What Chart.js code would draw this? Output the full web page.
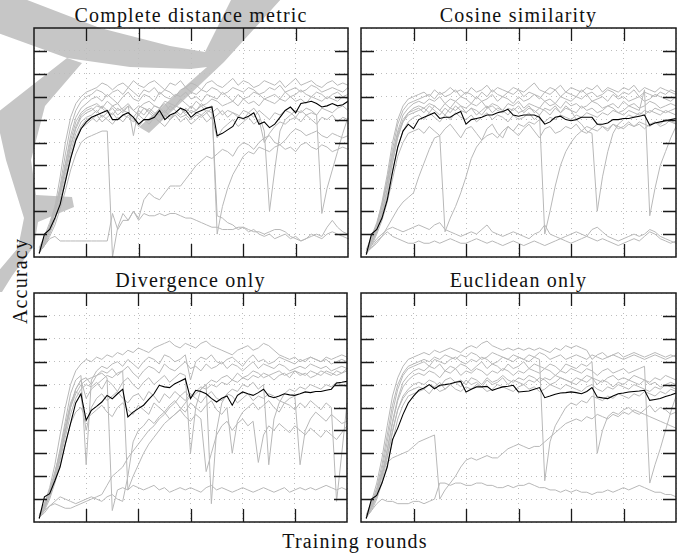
<!DOCTYPE html>
<html>
<head>
<meta charset="utf-8">
<script src="https://cdn.jsdelivr.net/npm/chart.js@4.4.1/dist/chart.umd.min.js"></script>
<style>
  body { margin: 0; background: #fff; }
  #page { position: relative; width: 691px; height: 556px; overflow: hidden; font-family: 'Liberation Serif', 'DejaVu Serif', 'Noto Serif', 'Times New Roman', serif; color: #111; }
  #mark { position: absolute; left: 0; top: 0; }
  canvas { position: absolute; }
  .title { position: absolute; font-size: 20px; line-height: 20px; letter-spacing: 1.2px; text-align: center; white-space: nowrap; }
  #ylab { position: absolute; left: 20px; top: 281px; font-size: 20px; line-height: 20px; letter-spacing: 1.2px; white-space: nowrap; transform: translate(-50%, -50%) rotate(-90deg); }
</style>
</head>
<body>
<div id="page">
  <!-- light grey watermark behind the plots -->
  <svg id="mark" width="691" height="556">
    <g fill="#c6c6c6" stroke="none">
      <polygon points="-2,-2 22,-2 100,28 170,46 205,52 232,-2 282,-2 224,62 149,133 139,127 207,67 190,69 130,67 67,58 -2,33"/>
      <polygon points="67,58 82,63 45,106 31,160 36,195 72,197 74,207 38,222 34,246 12,276 2,292 -4,292 -4,274 18,248 24,218 6,160 -2,124 -2,112"/>
    </g>
  </svg>
  <div id="ylab">Accuracy</div>
  <div class="title" style="left:34px;top:531px;width:642px;">Training rounds</div>
</div>
<script>
const rounds = [1,2,3,4,5,6,7,8,9,10,11,12,13,14,15,16,17,18,19,20,21,22,23,24,25,26,27,28,29,30,
  31,32,33,34,35,36,37,38,39,40,41,42,43,44,45,46,47,48,49,50,51,52,53,54,55,56,57,58,59,60];
const panelTitles = ['Complete distance metric', 'Cosine similarity', 'Divergence only', 'Euclidean only'];

// accuracy in percent, one value per training round
const completeMean = [1.5,10,12,17,23,33,43,51,56,59, 61,62,63,64,60,60,62,63,61,58,
  60,60,61,64,60,62,63,65,64,61, 63,64,65,65.5,53,54,55.5,57,61,60.5,
  61.5,63,58,59,56.5,58,61,64,65.5,63, 67,67.5,68,67,65.5,66,67,66,66.5,68];
const completeRuns = [
  [3,7,13,22,35,50,61,67,70,72, 73,74,76,75,73,75,76,74,77,75, 74,76,77,75,73,76,75,77,74,76,
   75,73,76,77,75,74,76,78,75,77, 76,74,75,77,76,75,77,74,76,78, 75,76,77,75,74,76,77,75,76,75],
  [2,6,12,20,31,45,57,64,68,70, 71,73,72,70,72,73,71,74,72,70, 73,72,74,71,73,72,70,73,74,72,
   71,73,72,74,73,71,72,74,73,72, 74,73,71,72,74,73,75,72,73,74, 72,73,75,74,72,73,74,73,72,74],
  [4,9,15,22,30,41,53,61,65,67, 69,70,68,71,69,67,70,72,69,68, 71,70,68,72,70,69,71,70,72,69,
   70,68,71,70,69,72,70,68,71,69, 70,72,71,69,70,71,69,72,70,71, 73,71,70,72,71,69,71,72,70,71],
  [2,6,12,19,28,40,51,59,63,65, 66,67,65,68,66,67,64,66,53,65, 67,68,66,65,68,67,66,69,67,65,
   68,66,67,69,68,66,67,68,66,69, 67,68,66,69,68,67,69,68,70,68, 69,67,70,69,68,70,69,68,70,69],
  [3,8,14,21,29,38,48,56,61,63, 64,66,65,63,66,64,65,67,64,66, 65,63,66,65,67,64,66,65,63,66,
   64,67,65,66,10,22,30,36,40,44, 46,45,48,47,46,48,49,47,48,46, 49,50,48,47,49,48,46,47,48,47],
  [2,7,13,20,27,36,46,54,59,61, 62,64,61,63,65,62,64,63,61,64, 62,65,63,62,64,61,63,65,62,64,
   63,62,64,63,65,62,64,63,61,64, 63,65,62,55,20,38,55,60,62,64, 63,65,64,62,65,64,63,65,66,64],
  [2,5,10,16,24,33,43,51,56,58, 60,62,59,61,63,60,62,61,59,62, 60,63,61,59,62,60,63,61,62,60,
   62,61,63,60,62,64,61,63,62,60, 63,61,64,62,60,63,62,64,63,61, 64,62,63,62,19,30,38,46,54,61],
  [2,5,9,14,21,29,38,45,50,52, 53,54,55,55,0,13,19,16,20,17, 25,28,26,25,28,31,31,31,34,37,
   40,42,44,43,45,47,46,44,48,50, 49,47,50,52,53,50,49,51,54,56, 55,53,54,55,53,52,54,53,52,53],
  [2,5,8,9,7,7,7,7,7,7, 7,7,7,7,19,12,16,16,20,16, 19,18,18,19,18,19,19,18,17,17,
   16,15,14,13,13,12,12,12,13,13, 12,11,11,10,11,12,12,11,9,8, 7,8,9,10,9,13,16,13,11,10],
  [3,8,13,20,28,38,49,57,62,64, 65,63,66,64,62,65,63,66,64,62, 65,64,62,65,63,66,64,62,65,63,
   64,66,63,65,18,17,15,14,12,13, 11,12,10,9,10,8,9,10,8,9, 7,8,10,9,8,10,11,10,9,8],
  [2,6,11,17,25,34,44,52,57,60, 61,59,62,60,58,61,59,62,60,57, 60,58,61,59,57,60,62,59,61,58,
   60,62,59,61,52,56,58,60,57,59, 61,58,60,50,54,57,59,58,60,61, 59,62,60,58,61,60,62,59,61,60]
];

const cosineMean = [1,10,12,17,25,37,48,55,58,56, 60,61,62,63,60.5,61,61,62.5,63.5,58,
  60,60.5,61,62,62,63,63.5,64.5,62,61.5, 62,62,62,61,58,59,61,61.5,60,59.5,
  60,61,61,61,58,58,58.5,60,60,60.5, 60.5,61,61.5,62,57.5,58.5,59,59.5,60,60.5];
const cosineRuns = [
  [3,8,14,24,36,50,60,66,69,70, 71,72,70,73,71,72,74,72,73,71, 74,72,73,75,72,74,73,72,74,73,
   72,74,76,73,72,74,73,75,72,74, 73,72,74,73,75,72,74,73,72,74, 73,75,72,74,73,72,74,73,72,71],
  [2,7,13,22,34,47,58,64,67,68, 69,70,71,69,72,70,71,73,70,72, 71,69,72,70,73,71,70,72,71,73,
   70,72,71,69,72,71,73,70,72,71, 70,73,71,72,70,71,73,72,70,72, 71,73,70,72,71,70,72,71,73,72],
  [3,9,15,23,33,45,55,62,65,67, 68,67,69,68,70,67,69,68,70,69, 67,70,68,69,71,68,70,69,67,70,
   68,69,71,70,68,69,67,70,69,68, 70,69,71,68,69,70,68,71,69,70, 68,69,70,68,69,71,70,69,68,70],
  [2,6,11,19,29,41,52,59,63,65, 66,65,67,66,64,67,65,68,66,65, 67,66,68,65,67,66,64,67,66,68,
   65,67,66,65,68,66,67,65,68,66, 67,65,66,68,67,65,66,67,65,68, 66,67,65,66,68,67,65,66,67,66],
  [3,7,12,20,30,42,53,59,62,63, 64,65,63,66,64,62,65,64,66,63, 65,64,62,65,66,64,63,65,64,66,
   63,65,64,62,65,64,66,63,65,64, 63,66,64,65,63,64,66,65,63,64, 66,65,64,73,18,30,40,46,52,57],
  [2,5,10,16,24,34,44,50,54,55, 56,54,57,55,53,56,58,55,52,56, 57,54,51,56,58,54,52,57,55,53,
   56,58,55,52,56,57,54,55,57,56, 58,55,57,56,58,57,55,58,56,57, 59,57,58,56,58,59,57,58,60,58],
  [2,4,6,9,13,17,21,24,26,28, 35,41,47,52,53,11,17,22,28,35, 43,48,51,53,54,52,55,57,55,58,
   57,59,58,60,59,61,60,62,61,60, 62,61,63,62,61,63,62,64,63,62, 64,63,62,64,63,65,64,63,64,65],
  [2,6,11,18,27,38,48,55,59,61, 62,60,63,61,59,62,60,63,61,60, 62,59,61,63,60,62,61,59,62,60,
   61,63,60,62,10,20,31,40,46,50, 53,55,54,56,55,57,56,58,57,56, 58,57,59,58,57,59,58,60,59,58],
  [3,8,14,22,32,44,54,60,63,64, 65,63,66,64,62,65,63,66,64,63, 65,62,64,66,63,65,64,62,65,63,
   64,66,63,65,64,62,65,63,66,64, 60,58,55,54,20,35,46,54,58,60, 62,61,63,62,64,63,62,64,63,62],
  [2,4,7,9,11,9,8,7,6,6, 7,6,6,7,6,7,8,7,6,6, 7,8,7,6,7,6,5,6,7,6,
   5,6,7,6,5,6,7,8,7,6, 7,8,9,8,7,8,7,6,5,6, 7,8,7,9,11,10,8,7,6,7],
  [1,5,8,10,12,13,12,11,12,13, 14,13,12,14,15,12,11,10,9,10, 11,10,12,14,11,10,9,10,11,10,
   9,8,10,11,14,10,9,8,9,10, 11,10,9,12,13,11,9,8,7,8, 9,10,9,10,12,11,9,8,7,6]
];

const divergenceMean = [1.5,11,12.4,18,24,34,43,52,56,44.4, 48.8,50.5,52.4,55.3,53.8,56,58,45.9,48,49.5,
  51,53.5,56,59.7,59,58.7,60.4,61.5,62.6,53.9, 57.5,57,56,54,52.4,54,55,51,55.3,56.8,
  56,55.3,56.5,58,55,54.3,55,56,55.5,55.3, 56,56.8,56.5,57,57,57.5,58,60.7,61,61.4];
const divergenceRuns = [
  [3,8,15,25,38,50,60,66,69,71, 70,72,71,73,72,74,73,75,74,76, 75,74,76,77,78,79,77,76,78,77,
   76,78,79,77,76,75,74,73,75,76, 77,75,76,78,77,75,73,72,71,72, 70,71,72,71,70,72,71,72,73,72],
  [2,7,13,21,32,44,56,62,64,25, 62,66,68,67,69,70,68,71,69,67, 70,72,71,69,73,72,70,71,73,62,
   70,72,71,73,70,69,71,72,70,68, 71,73,70,71,69,70,72,71,70,69, 71,70,72,71,70,71,69,70,71,70],
  [3,8,14,22,30,40,50,56,60,62, 63,64,65,63,5,14,15,14,16,15, 14,15,16,14,15,13,14,15,14,15,
   14,13,15,16,14,15,14,13,14,15, 14,13,14,15,14,13,14,15,13,14, 15,14,15,14,15,16,15,14,15,14],
  [2,6,12,20,29,40,51,58,62,54, 58,60,62,64,63,65,66,14,20,25, 30,34,37,40,43,45,47,49,52,55,
   57,59,58,60,59,61,60,62,61,63, 62,64,63,65,64,62,64,65,63,66, 64,65,63,64,66,65,64,66,65,67],
  [2,5,7,8,7,6,6,7,8,9, 10,11,12,16,20,22,24,28,31,34, 37,40,42,45,47,50,52,55,57,54,
   56,58,60,62,61,63,64,62,65,63, 64,66,65,63,64,65,66,64,65,66, 65,64,66,65,64,66,65,64,65,66],
  [2,6,11,18,27,37,47,54,58,60, 59,61,58,62,60,57,61,63,60,58, 61,63,60,62,64,61,63,65,64,30,
   50,58,60,8,40,52,56,58,57,60, 59,61,58,60,25,45,52,56,58,57, 59,58,60,59,58,60,59,61,60,59],
  [3,7,13,21,31,42,52,57,55,40, 50,54,56,53,55,57,54,52,55,56, 53,57,55,52,56,54,57,55,53,56,
   54,52,55,57,54,53,56,55,52,54, 56,53,55,54,56,55,53,52,54,55, 25,40,45,48,46,44,47,45,43,44],
  [2,5,10,17,25,34,43,48,50,45, 47,49,51,48,46,50,52,49,47,51, 49,47,52,50,48,51,53,50,48,52,
   50,48,51,53,49,47,50,30,44,48, 50,52,49,51,53,50,48,52,51,49, 52,50,53,51,49,52,50,9,30,52],
  [2,4,7,9,11,10,9,8,9,10, 11,10,9,11,12,10,9,20,35,40, 42,45,43,46,48,45,47,49,46,44,
   47,45,22,30,38,42,44,40,43,45, 42,44,26,38,42,40,43,41,39,42, 40,38,41,39,37,40,38,36,39,42],
  [2,6,12,19,28,39,50,58,62,63, 60,64,66,65,67,64,66,68,65,63, 66,68,67,65,69,67,66,68,70,67,
   68,66,69,67,68,70,67,69,68,66, 68,70,67,69,68,67,69,68,66,67, 68,67,69,68,67,68,66,67,68,67]
];

const euclideanMean = [1.5,10,11.6,17,24,36,41,47,52,55, 57.5,58.5,60,58.2,59.7,60,60.4,61,61.4,56.8,
  58,59,59,59.2,57.5,58.3,59,59.3,59.7,56.8, 57,57.2,58,58.7,54.3,55,55.8,56.3,56.5,56.8,
  56.5,56,57,58.7,54.6,54.2,53.9,55,56,56.3, 56.8,57,57.2,57.5,53.1,53.5,53.9,54.8,55.5,56.3];
const euclideanRuns = [
  [3,9,17,28,42,55,63,68,71,72, 73,74,73,75,74,75,76,75,74,76, 77,76,78,79,77,76,75,76,75,76,
   75,76,75,76,75,74,76,75,77,76, 77,76,75,71,73,74,72,73,74,72, 73,74,73,72,73,74,73,72,73,72],
  [2,8,15,25,38,51,60,65,68,69, 70,71,70,72,71,73,72,71,73,72, 74,73,71,72,74,73,72,71,73,72,
   71,73,72,74,73,71,72,73,71,72, 73,72,71,73,72,71,72,73,72,71, 72,73,72,71,72,73,72,71,72,73],
  [3,8,14,23,35,48,58,64,67,68, 69,70,68,71,70,69,71,72,70,69, 71,70,72,71,69,70,72,71,70,72,
   71,70,72,71,18,35,42,46,50,52, 51,53,52,55,54,53,55,54,56,55, 54,56,55,57,56,55,57,56,58,57],
  [2,7,13,21,32,44,54,61,64,66, 67,66,68,67,69,66,68,67,69,68, 66,68,70,67,69,68,66,69,67,68,
   70,67,69,68,67,69,68,66,69,68, 67,69,68,70,30,40,46,48,47,49, 50,48,47,49,51,48,50,49,47,48],
  [3,7,12,20,31,43,53,59,62,64, 65,64,66,65,63,66,65,67,64,66, 65,67,66,64,66,65,67,66,64,66,
   65,67,66,65,67,66,64,66,65,67, 66,65,67,66,64,66,67,65,66,67, 65,66,67,68,17,25,32,40,48,55],
  [2,6,11,18,28,39,49,55,58,60, 61,60,62,61,59,62,63,61,62,60, 63,62,60,63,61,62,64,62,61,63,
   62,64,63,61,63,62,64,63,62,61, 63,62,64,63,62,61,63,64,62,63, 62,64,63,62,61,63,62,64,63,62],
  [3,8,13,20,29,40,49,54,57,58, 59,58,60,59,61,58,60,61,59,62, 60,61,59,62,60,61,63,60,62,61,
   60,62,61,63,62,60,61,63,62,61, 60,62,61,63,60,62,61,59,61,60, 62,61,60,62,60,61,59,60,61,60],
  [2,6,12,22,26,28,29,30,31,33, 35,36,37,38,10,14,17,20,24,27, 28,27,28,29,28,28,30,32,33,34,
   33,32,33,33,35,37,39,41,43,44, 45,44,46,45,47,46,45,47,46,48, 47,49,48,47,46,45,44,43,42,41],
  [2,5,8,10,9,9,8,8,8,9, 9,8,9,10,17,17,16,17,17,16, 16,17,17,16,16,15,15,16,15,16,
   16,17,16,15,15,14,14,13,14,13, 14,13,13,12,13,13,14,13,14,15, 14,15,16,15,14,13,13,12,12,11],
  [2,5,10,17,25,35,45,51,55,56, 57,58,56,59,57,58,60,58,57,59, 58,60,59,57,58,60,59,58,57,59,
   60,58,59,57,58,60,59,58,60,59, 58,57,59,60,58,57,59,58,60,59, 58,60,59,58,57,59,58,60,59,58]
];

// plot frame of each panel on the page: left, top, width, height
const frames = [[34, 28, 314, 229], [361, 28, 315, 229], [34, 293, 313, 229], [361, 293, 315, 229]];
const titleTops = [5, 5, 270, 270];
const PAD = 4;
const TICK = 13;

// closed box with inward ticks on all four sides, as in the original figure
const boxPlugin = {
  id: 'box',
  afterDraw(chart) {
    const { ctx, chartArea: a, scales: { x, y } } = chart;
    ctx.save();
    ctx.strokeStyle = '#1a1a1a';
    ctx.lineWidth = 1.3;
    ctx.beginPath();
    x.ticks.forEach(t => {
      if (t.value <= x.min || t.value >= x.max) return;
      const px = Math.round(x.getPixelForValue(t.value)) + 0.5;
      ctx.moveTo(px, a.bottom); ctx.lineTo(px, a.bottom - TICK);
      ctx.moveTo(px, a.top); ctx.lineTo(px, a.top + TICK);
    });
    y.ticks.forEach(t => {
      if (t.value <= y.min || t.value >= y.max) return;
      const py = Math.round(y.getPixelForValue(t.value)) + 0.5;
      ctx.moveTo(a.left, py); ctx.lineTo(a.left + TICK, py);
      ctx.moveTo(a.right, py); ctx.lineTo(a.right - TICK, py);
    });
    ctx.stroke();
    ctx.lineWidth = 1.5;
    ctx.strokeRect(a.left, a.top, a.right - a.left, a.bottom - a.top);
    ctx.restore();
  }
};

const panelData = [
  [completeMean, completeRuns],
  [cosineMean, cosineRuns],
  [divergenceMean, divergenceRuns],
  [euclideanMean, euclideanRuns]
];

const page = document.getElementById('page');

panelData.forEach(([mean, runs], i) => {
  const [left, top, w, h] = frames[i];

  const title = document.createElement('div');
  title.className = 'title';
  title.style.left = left + 'px';
  title.style.top = titleTops[i] + 'px';
  title.style.width = w + 'px';
  title.textContent = panelTitles[i];
  page.appendChild(title);

  const canvas = document.createElement('canvas');
  canvas.width = w + 2 * PAD;
  canvas.height = h + 2 * PAD;
  canvas.style.left = (left - PAD) + 'px';
  canvas.style.top = (top - PAD) + 'px';
  page.appendChild(canvas);

  const datasets = [{
    data: mean,
    borderColor: '#000',
    borderWidth: 1.1
  }].concat(runs.map(r => ({
    data: r,
    borderColor: '#b8b8b8',
    borderWidth: 1
  })));

  new Chart(canvas, {
    type: 'line',
    data: { labels: rounds, datasets: datasets },
    options: {
      responsive: false,
      animation: false,
      devicePixelRatio: 1,
      layout: { padding: PAD },
      elements: { point: { radius: 0 }, line: { tension: 0 } },
      plugins: { legend: { display: false }, tooltip: { enabled: false } },
      scales: {
        x: {
          type: 'linear', min: 0, max: 60,
          ticks: { display: false, stepSize: 10 },
          grid: { drawTicks: false, color: '#bdbdbd', lineWidth: 1 },
          border: { display: false, dash: [1, 4] }
        },
        y: {
          min: 0, max: 100,
          ticks: { display: false, stepSize: 10 },
          grid: { drawTicks: false, color: '#bdbdbd', lineWidth: 1 },
          border: { display: false, dash: [1, 4] }
        }
      }
    },
    plugins: [boxPlugin]
  });
});
</script>
</body>
</html>
